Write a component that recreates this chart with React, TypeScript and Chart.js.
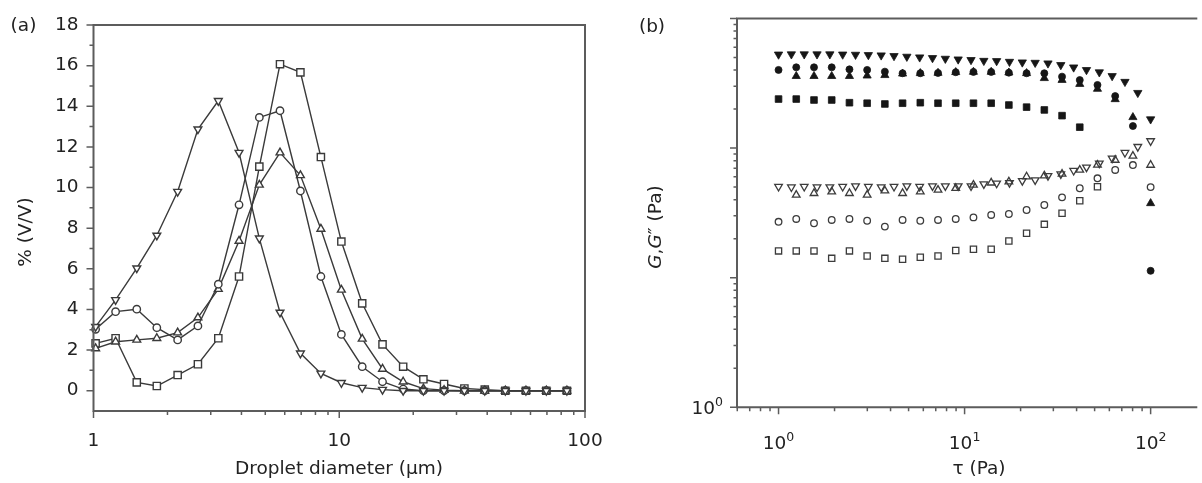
import React, { useEffect, useRef } from 'react';
import { Chart, registerables } from 'chart.js';

Chart.register(...registerables);

// ---------------- Panel (a): droplet size distribution ----------------
const A_DIAMETERS = [1.02, 1.23, 1.5, 1.81, 2.2, 2.66, 3.22, 3.91, 4.73, 5.74, 6.95, 8.42, 10.2, 12.4, 15.0, 18.2, 22.0, 26.7, 32.3, 39.1, 47.4, 57.5, 69.6, 84.4];
const A_INV_TRIANGLE = [3.15, 4.47, 6.03, 7.64, 9.8, 12.87, 14.27, 11.72, 7.5, 3.85, 1.84, 0.85, 0.39, 0.15, 0.05, 0, 0, 0, 0, 0, 0, 0, 0, 0];
const A_CIRCLE = [3.02, 3.89, 4.01, 3.1, 2.5, 3.19, 5.24, 9.15, 13.45, 13.78, 9.83, 5.62, 2.77, 1.18, 0.44, 0.08, 0, 0, 0, 0, 0, 0, 0, 0];
const A_TRIANGLE = [2.08, 2.41, 2.5, 2.58, 2.86, 3.6, 5.0, 7.37, 10.13, 11.72, 10.6, 7.96, 4.96, 2.55, 1.07, 0.44, 0.1, 0.03, 0, 0, 0, 0, 0, 0];
const A_SQUARE = [2.33, 2.58, 0.41, 0.23, 0.77, 1.3, 2.58, 5.62, 11.03, 16.07, 15.67, 11.5, 7.34, 4.3, 2.28, 1.18, 0.56, 0.33, 0.11, 0.05, 0, 0, 0, 0];
const A_Y_TICKS = [0, 2, 4, 6, 8, 10, 12, 14, 16, 18];
const A_X_TICKS = [1, 10, 100];

// ---------------- Panel (b): stress sweep, G' (filled) and G'' (open) ----------------
const B_STRESS_30 = [1, 1.172, 1.374, 1.61, 1.887, 2.212, 2.593, 3.039, 3.562, 4.175, 4.894, 5.736, 6.723, 7.88, 9.237, 10.83, 12.69, 14.87, 17.43, 20.43, 23.95, 28.07, 32.9, 38.57, 45.21, 52.99, 62.11, 72.79, 85.32, 100];
const B_STRESS_22 = [1, 1.245, 1.551, 1.931, 2.405, 2.994, 3.728, 4.642, 5.78, 7.197, 8.962, 11.16, 13.9, 17.3, 21.54, 26.83, 33.41, 41.6, 51.8, 64.5, 80.31, 100];
const B_G1_INV_TRIANGLE = [528, 530, 530, 530, 530, 528, 526, 523, 520, 514, 508, 502, 496, 490, 484, 479, 472, 470, 464, 459, 456, 451, 438, 420, 401, 385, 360, 325, 267, 167];
const B_G2_INV_TRIANGLE = [50.5, 50, 50.5, 50, 50, 50.5, 51, 50.5, 50, 50.5, 51, 50.5, 51, 51, 51, 51, 52.8, 53.5, 54, 56, 56.7, 61.2, 63.1, 67, 71.1, 76.4, 83.4, 92.2, 102.5, 113.5];
const B_G1_CIRCLE = [401, 420, 420, 420, 405, 401, 389, 378, 378, 380, 385, 387, 387, 382, 378, 378, 356, 335, 307, 252, 148, 11.3];
const B_G2_CIRCLE = [27, 28.4, 26.3, 27.9, 28.4, 27.5, 24.8, 27.9, 27.5, 27.9, 28.4, 29.2, 30.5, 31, 33.3, 36.4, 41.7, 49, 58.5, 67.8, 74, 50];
const B_G1_TRIANGLE = [null, 359, 359, 359, 359, 362, 365, 375, 378, 380, 385, 387, 387, 382, 378, 346, 335, 312, 286, 238, 173, 37.5];
const B_G2_TRIANGLE = [null, 43.5, 44.8, 46.1, 44.8, 43.5, 46.9, 44.8, 46.1, 47.5, 49, 51.9, 54, 55, 60.2, 61.2, 63.1, 67.8, 74.1, 80.9, 86.9, 74];
const B_G1_SQUARE = [239, 239, 235, 235, 224, 222, 219, 222, 224, 222, 222, 222, 222, 215, 207, 197, 178, 145, null, null, null, null];
const B_G2_SQUARE = [16.1, 16.1, 16.1, 14.1, 16.1, 14.7, 14.1, 13.9, 14.4, 14.7, 16.2, 16.6, 16.6, 19.2, 22, 25.8, 31.4, 39.3, 50.4, null, null, null];
const B_X_TICKS = [1, 10, 100];
const B_X_EXPONENTS = ['0', '1', '2'];
const B_Y_TICKS = [1, 10, 100, 1000];
const B_Y_LABELLED = [1];
const B_Y_EXPONENTS = ['0'];

const FONT = '"DejaVu Sans", Verdana, sans-serif';
const FS = 18.5;
const FS_SUP = 12.5;
const INK = '#222222';
const AXIS = '#5c5c5c';
const LINE = '#3a3a3a';

type Run = { t: string; size: number; italic?: boolean; dy?: number };

function drawRuns(ctx: CanvasRenderingContext2D, runs: Run[], x: number, y: number, rot = 0, align = 'center') {
  ctx.save();
  ctx.translate(x, y);
  if (rot) ctx.rotate(rot);
  ctx.textBaseline = 'alphabetic';
  ctx.textAlign = 'left';
  ctx.fillStyle = INK;
  const fonts = runs.map((r) => `${r.italic ? 'italic ' : ''}${r.size}px ${FONT}`);
  let total = 0;
  const widths = runs.map((r, i) => {
    ctx.font = fonts[i];
    const w = ctx.measureText(r.t).width;
    total += w;
    return w;
  });
  let cx = align === 'center' ? -total / 2 : align === 'right' ? -total : 0;
  runs.forEach((r, i) => {
    ctx.font = fonts[i];
    ctx.fillText(r.t, cx, r.dy ?? 0);
    cx += widths[i];
  });
  ctx.restore();
}

function logMinors(lo: number, hi: number) {
  const out: number[] = [];
  for (let d = Math.floor(Math.log10(lo)); d <= Math.ceil(Math.log10(hi)); d++) {
    for (let m = 2; m <= 9; m++) {
      const v = m * Math.pow(10, d);
      if (v > lo && v < hi) out.push(v);
    }
  }
  return out;
}

const decorPlugin = {
  id: 'decor',
  afterDraw(chart: any, _args: any, opts: any) {
    const { ctx, chartArea: a, scales } = chart;
    ctx.save();
    ctx.strokeStyle = AXIS;
    ctx.lineWidth = 2;
    ctx.lineCap = 'square';
    const f = opts.frame || {};
    ctx.beginPath();
    if (f.left) { ctx.moveTo(a.left, a.top); ctx.lineTo(a.left, a.bottom); }
    if (f.bottom) { ctx.moveTo(a.left, a.bottom); ctx.lineTo(a.right, a.bottom); }
    if (f.top) { ctx.moveTo(a.left, a.top); ctx.lineTo(a.right, a.top); }
    if (f.right) { ctx.moveTo(a.right, a.top); ctx.lineTo(a.right, a.bottom); }
    ctx.stroke();
    ctx.lineWidth = 1.5;
    ctx.lineCap = 'butt';
    ctx.beginPath();
    (opts.ticks || []).forEach((t: any) => {
      t.values.forEach((v: number) => {
        if (t.axis === 'x') {
          const px = scales.x.getPixelForValue(v);
          if (px < a.left - 0.5 || px > a.right + 0.5) return;
          ctx.moveTo(px, a.bottom);
          ctx.lineTo(px, a.bottom + t.len);
        } else {
          const py = scales.y.getPixelForValue(v);
          if (py < a.top - 0.5 || py > a.bottom + 0.5) return;
          ctx.moveTo(a.left, py);
          ctx.lineTo(a.left - t.len, py);
        }
      });
    });
    ctx.stroke();
    (opts.xLabels || []).forEach((l: any) => {
      const px = scales.x.getPixelForValue(l.value);
      drawRuns(ctx, l.runs, px, l.baseline, 0, 'center');
    });
    (opts.yLabels || []).forEach((l: any) => {
      const py = scales.y.getPixelForValue(l.value);
      drawRuns(ctx, l.runs, a.left - l.gap, py + l.dy, 0, 'right');
    });
    (opts.texts || []).forEach((t: any) => drawRuns(ctx, t.runs, t.x, t.y, t.rot || 0, t.align || 'center'));
    ctx.restore();
  },
};

function pts(xs: number[], ys: (number | null)[]) {
  return xs.map((x, i) => ({ x, y: ys[i] })).filter((p) => p.y !== null);
}

const noScalePadding = (s: any) => {
  s.paddingLeft = 0;
  s.paddingRight = 0;
  s.paddingTop = 0;
  s.paddingBottom = 0;
};

function PanelA() {
  const ref = useRef<HTMLCanvasElement>(null);
  useEffect(() => {
    const series = [
      { data: A_INV_TRIANGLE, style: 'triangle', rot: 180, r: 4.5 },
      { data: A_CIRCLE, style: 'circle', rot: 0, r: 3.7 },
      { data: A_TRIANGLE, style: 'triangle', rot: 0, r: 4.5 },
      { data: A_SQUARE, style: 'rect', rot: 0, r: 5.1 },
    ];
    const chart = new Chart(ref.current as HTMLCanvasElement, {
      type: 'scatter',
      data: {
        datasets: series.map((s) => ({
          data: pts(A_DIAMETERS, s.data),
          showLine: true,
          borderColor: LINE,
          borderWidth: 1.4,
          pointStyle: s.style as any,
          rotation: s.rot,
          pointRadius: s.r,
          pointBorderColor: LINE,
          pointBorderWidth: 1.4,
          pointBackgroundColor: '#ffffff',
          clip: false as any,
        })),
      },
      options: {
        animation: false,
        responsive: false,
        devicePixelRatio: 1,
        events: [],
        layout: { padding: { left: 0, right: 55, top: 25, bottom: 0 } },
        plugins: {
          legend: { display: false },
          tooltip: { enabled: false },
          decor: {
            frame: { left: true, bottom: true, top: true, right: true },
            ticks: [
              { axis: 'y', values: A_Y_TICKS, len: 7 },
              { axis: 'y', values: [1, 3, 5, 7, 9, 11, 13, 15, 17], len: 4 },
              { axis: 'x', values: A_X_TICKS, len: 7 },
              { axis: 'x', values: logMinors(1, 100), len: 4 },
            ],
            texts: [
              { runs: [{ t: '(a)', size: FS }], x: 23.5, y: 30.5 },
              { runs: [{ t: '% (V/V)', size: FS }], x: 30.5, y: 232, rot: -Math.PI / 2 },
              { runs: [{ t: 'Droplet diameter (μm)', size: FS }], x: 339, y: 473.5 },
            ],
          },
        } as any,
        scales: {
          x: {
            type: 'logarithmic',
            min: 1,
            max: 100,
            afterBuildTicks: (s: any) => { s.ticks = A_X_TICKS.map((v) => ({ value: v })); },
            afterFit: (s: any) => { s.height = 72; noScalePadding(s); },
            grid: { display: false, drawTicks: false },
            border: { display: false },
            ticks: { font: { family: FONT, size: FS }, color: INK, padding: 19, maxRotation: 0, autoSkip: false, callback: (v: any) => String(v) },
          },
          y: {
            type: 'linear',
            min: -1,
            max: 18,
            afterBuildTicks: (s: any) => { s.ticks = A_Y_TICKS.map((v) => ({ value: v })); },
            afterFit: (s: any) => { s.width = 93.5; noScalePadding(s); },
            grid: { display: false, drawTicks: false },
            border: { display: false },
            ticks: { font: { family: FONT, size: FS }, color: INK, padding: 15, autoSkip: false, callback: (v: any) => String(v) },
          },
        },
      },
      plugins: [decorPlugin],
    });
    return () => chart.destroy();
  }, []);
  return <canvas ref={ref} width={640} height={483} style={{ position: 'absolute', left: 0, top: 0 }} />;
}

function PanelB() {
  const ref = useRef<HTMLCanvasElement>(null);
  useEffect(() => {
    const filled = '#161616';
    const open = '#3c3c3c';
    const series = [
      { x: B_STRESS_22, y: B_G2_SQUARE, style: 'rect', rot: 0, r: 4.4, fill: false },
      { x: B_STRESS_22, y: B_G2_CIRCLE, style: 'circle', rot: 0, r: 3.3, fill: false },
      { x: B_STRESS_22, y: B_G2_TRIANGLE, style: 'triangle', rot: 0, r: 4.4, fill: false },
      { x: B_STRESS_30, y: B_G2_INV_TRIANGLE, style: 'triangle', rot: 180, r: 4.4, fill: false },
      { x: B_STRESS_22, y: B_G1_SQUARE, style: 'rect', rot: 0, r: 4.7, fill: true },
      { x: B_STRESS_22, y: B_G1_TRIANGLE, style: 'triangle', rot: 0, r: 4.7, fill: true },
      { x: B_STRESS_22, y: B_G1_CIRCLE, style: 'circle', rot: 0, r: 3.5, fill: true },
      { x: B_STRESS_30, y: B_G1_INV_TRIANGLE, style: 'triangle', rot: 180, r: 4.8, fill: true },
    ];
    const exp = (e: string): Run[] => [{ t: '10', size: FS }, { t: e, size: FS_SUP, dy: -8 }];
    const chart = new Chart(ref.current as HTMLCanvasElement, {
      type: 'scatter',
      data: {
        datasets: series.map((s) => ({
          data: pts(s.x, s.y),
          showLine: false,
          pointStyle: s.style as any,
          rotation: s.rot,
          pointRadius: s.r,
          pointBorderColor: s.fill ? filled : open,
          pointBorderWidth: s.fill ? 0.8 : 1.3,
          pointBackgroundColor: s.fill ? filled : 'rgba(0,0,0,0)',
          clip: false as any,
        })),
      },
      options: {
        animation: false,
        responsive: false,
        devicePixelRatio: 1,
        events: [],
        layout: { padding: { left: 0, right: 0, top: 18.5, bottom: 0 } },
        plugins: {
          legend: { display: false },
          tooltip: { enabled: false },
          decor: {
            frame: { left: true, bottom: true, top: true, right: false },
            ticks: [
              { axis: 'y', values: B_Y_TICKS, len: 7 },
              { axis: 'y', values: logMinors(1, 1000), len: 3.5 },
              { axis: 'x', values: B_X_TICKS, len: 7 },
              { axis: 'x', values: logMinors(0.5, 200), len: 4 },
            ],
            xLabels: B_X_TICKS.map((v, i) => ({ value: v, runs: exp(B_X_EXPONENTS[i]), baseline: 448.5 })),
            yLabels: B_Y_LABELLED.map((v, i) => ({ value: v, runs: exp(B_Y_EXPONENTS[i]), gap: 14, dy: 7 })),
            texts: [
              { runs: [{ t: '(b)', size: FS }], x: 52, y: 32 },
              {
                runs: [
                  { t: 'G', size: FS, italic: true },
                  { t: ',', size: FS },
                  { t: 'G', size: FS, italic: true },
                  { t: '″', size: FS },
                  { t: ' (Pa)', size: FS },
                ],
                x: 60.5,
                y: 227,
                rot: -Math.PI / 2,
              },
              { runs: [{ t: 'τ (Pa)', size: FS }], x: 379, y: 473.5 },
            ],
          },
        } as any,
        scales: {
          x: {
            type: 'logarithmic',
            min: 0.598,
            max: 176,
            afterFit: (s: any) => { s.height = 75.7; noScalePadding(s); },
            grid: { display: false, drawTicks: false },
            border: { display: false },
            ticks: { display: false },
          },
          y: {
            type: 'logarithmic',
            min: 1,
            max: 1000,
            afterFit: (s: any) => { s.width = 137; noScalePadding(s); },
            grid: { display: false, drawTicks: false },
            border: { display: false },
            ticks: { display: false },
          },
        },
      },
      plugins: [decorPlugin],
    });
    return () => chart.destroy();
  }, []);
  return <canvas ref={ref} width={602} height={483} style={{ position: 'absolute', left: 600, top: 0 }} />;
}

export default function App() {
  return (
    <div style={{ position: 'absolute', left: 0, top: 0, width: 1202, height: 483, overflow: 'hidden', background: '#ffffff' }}>
      <PanelA />
      <PanelB />
    </div>
  );
}
